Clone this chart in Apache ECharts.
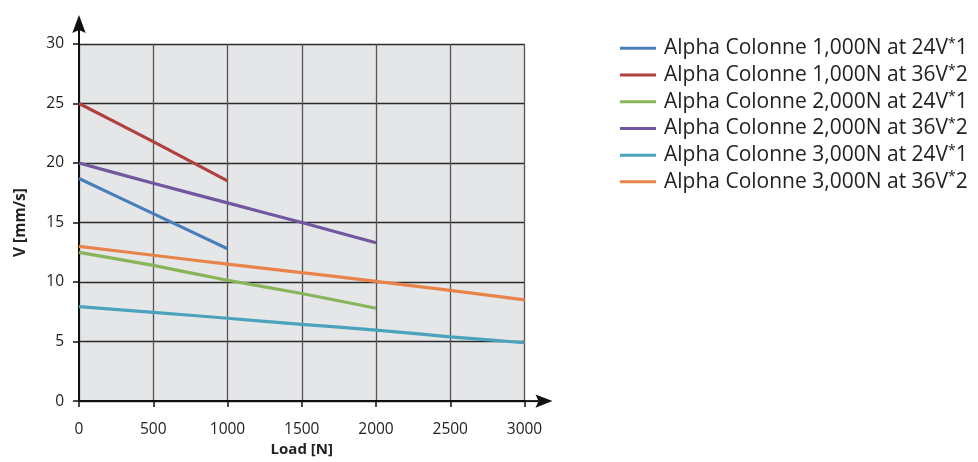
<!DOCTYPE html>
<html><head><meta charset="utf-8">
<script src="https://cdn.jsdelivr.net/npm/echarts@6/dist/echarts.min.js"></script>
<style>html,body{margin:0;padding:0;background:#fff}#c{width:978px;height:462px}</style>
</head><body><div id="c"></div>
<script>
const loads = [0, 500, 1000, 1500, 2000, 2500, 3000];
const seriesNames = [
  'Alpha Colonne 1,000N at 24V*1',
  'Alpha Colonne 1,000N at 36V*2',
  'Alpha Colonne 2,000N at 24V*1',
  'Alpha Colonne 2,000N at 36V*2',
  'Alpha Colonne 3,000N at 24V*1',
  'Alpha Colonne 3,000N at 36V*2'
];
const s1000_24 = [18.7, 15.75, 12.8];
const s1000_36 = [25.0, 21.8, 18.5];
const s2000_24 = [12.5, 11.4, 10.15, 9.04, 7.8];
const s2000_36 = [20.0, 18.3, 16.65, 15.0, 13.3];
const s3000_24 = [7.93, 7.46, 6.96, 6.44, 5.97, 5.4, 4.9];
const s3000_36 = [13.0, 12.25, 11.5, 10.8, 10.06, 9.3, 8.5];
const colors = ['#4a7ebb', '#b0413e', '#88b45a', '#7156a0', '#4aa3bb', '#e8834a'];
const xTicks = [0, 500, 1000, 1500, 2000, 2500, 3000];
const yTicks = [0, 5, 10, 15, 20, 25, 30];

const allData = [s1000_24, s1000_36, s2000_24, s2000_36, s3000_24, s3000_36];
const FONT = '"Open Sans", "Noto Sans", sans-serif';

const chart = echarts.init(document.getElementById('c'), null, {renderer: 'canvas'});
const series = allData.map((d, i) => ({
  name: seriesNames[i],
  type: 'line',
  data: d.map((v, j) => [loads[j], v]),
  showSymbol: false,
  symbol: 'none',
  smooth: 0.2,
  lineStyle: {color: colors[i], width: 3.2},
  itemStyle: {color: colors[i]},
  z: 5
}));

chart.setOption({
  animation: false,
  textStyle: {fontFamily: FONT},
  grid: {left: 79, top: 44, right: 453.5, bottom: 58, show: true,
         backgroundColor: '#e5e6e8', borderWidth: 0},
  legend: {
    orient: 'vertical', left: 615, top: 30,
    itemWidth: 36, itemHeight: 3, itemGap: 0,
    icon: 'rect',
    data: seriesNames.map((n, i) => ({name: n, itemStyle: {color: colors[i]}})),
    formatter: n => n.replace('*', '{sup|*}'),
    textStyle: {fontSize: 21, color: '#222', fontFamily: FONT, lineHeight: 26.7, padding: [0,0,0,3],
      rich: {sup: {fontSize: 14, color: '#222', fontFamily: FONT, padding: [0,0,9,0], lineHeight: 14}}}
  },
  xAxis: {
    type: 'value', min: 0, max: 3000, interval: 500,
    name: 'Load [N]', nameLocation: 'middle', nameGap: 40,
    nameTextStyle: {fontSize: 15, fontWeight: 'bold', color: '#222', fontFamily: FONT},
    axisLine: {show: true, onZero: false, lineStyle: {color: '#111', width: 2}},
    axisTick: {show: true, length: 6, lineStyle: {color: '#111', width: 1.5}},
    axisLabel: {fontSize: 15.5, color: '#222', margin: 20, fontFamily: FONT, formatter: v => String(v)},
    splitLine: {show: true, lineStyle: {color: '#555', width: 1.3}}
  },
  yAxis: {
    type: 'value', min: 0, max: 30, interval: 5,
    name: 'V [mm/s]', nameLocation: 'middle', nameGap: 50, nameRotate: 90,
    nameTextStyle: {fontSize: 15.5, fontWeight: 'bold', color: '#222', fontFamily: FONT},
    axisLine: {show: true, lineStyle: {color: '#111', width: 2}},
    axisTick: {show: true, length: 6, lineStyle: {color: '#111', width: 1.5}},
    axisLabel: {fontSize: 15.5, color: '#222', margin: 15, fontFamily: FONT},
    splitLine: {show: true, lineStyle: {color: '#2a2a2a', width: 1.3}}
  },
  series: series
});

const o = chart.convertToPixel({gridIndex: 0}, [0, 0]);
const tr = chart.convertToPixel({gridIndex: 0}, [3000, 30]);
chart.setOption({
  graphic: [
    {type: 'line', shape: {x1: o[0], y1: tr[1], x2: o[0], y2: tr[1] - 14}, style: {stroke: '#111', lineWidth: 2}, z: 100},
    {type: 'polygon', shape: {points: [[o[0], tr[1] - 29], [o[0] - 6.7, tr[1] - 11], [o[0], tr[1] - 14], [o[0] + 6.7, tr[1] - 11]]}, style: {fill: '#111'}, z: 100},
    {type: 'line', shape: {x1: tr[0], y1: o[1], x2: tr[0] + 14, y2: o[1]}, style: {stroke: '#111', lineWidth: 2}, z: 100},
    {type: 'polygon', shape: {points: [[tr[0] + 28, o[1]], [tr[0] + 11, o[1] - 6.7], [tr[0] + 14, o[1]], [tr[0] + 11, o[1] + 6.7]]}, style: {fill: '#111'}, z: 100}
  ]
});
</script></body></html>
